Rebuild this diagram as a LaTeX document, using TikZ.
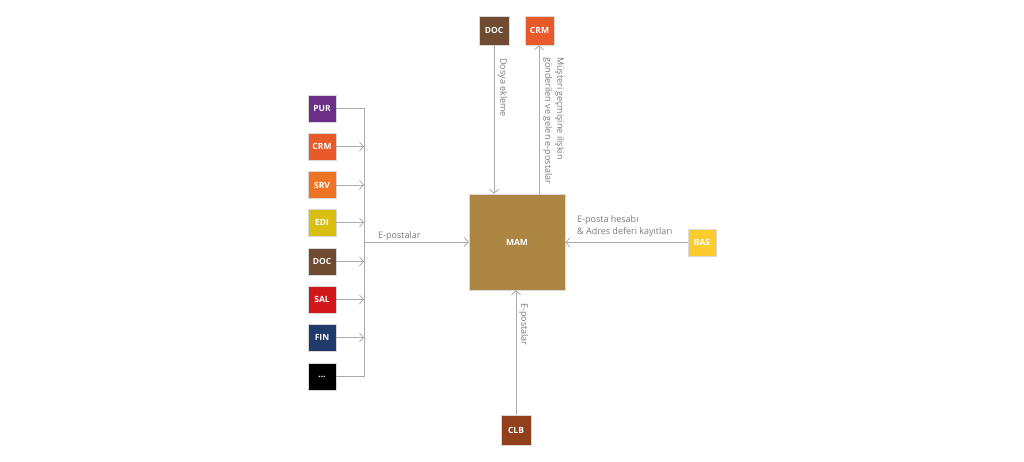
\documentclass[tikz,border=0pt]{standalone}
\usepackage{fontspec}
\setmainfont{Open Sans}
\usetikzlibrary{arrows.meta}
\definecolor{cPUR}{HTML}{6B2F87}
\definecolor{cCRM}{HTML}{E85A2A}
\definecolor{cSRV}{HTML}{EE7423}
\definecolor{cEDI}{HTML}{D8BF12}
\definecolor{cDOC}{HTML}{6E4B31}
\definecolor{cSAL}{HTML}{D2171B}
\definecolor{cFIN}{HTML}{1F3A6B}
\definecolor{cMAM}{HTML}{AD8643}
\definecolor{cBAS}{HTML}{FCCB2C}
\definecolor{cCLB}{HTML}{923F1D}
\definecolor{cline}{HTML}{ABABAB}
\definecolor{ctext}{HTML}{7A7A7A}
\tikzset{
  sysbox/.style={draw=white!85!black, line width=0.5pt, minimum width=28pt, minimum height=27pt, inner sep=0pt, text=white, font=\fontsize{8.5}{9}\selectfont\bfseries},
  conn/.style={draw=cline, line width=0.8pt},
  arr/.style={conn, -{Straight Barb[length=4pt,width=9pt,line width=0.8pt]}},
  lbl/.style={text=ctext, font=\fontsize{9}{12}\selectfont, inner sep=0pt},
}
\begin{document}
\begin{tikzpicture}[x=1pt,y=-1pt]
\useasboundingbox (0,0) rectangle (1024,461);
% left column
\node[sysbox, fill=cPUR] (pur) at (322,108.5) {PUR};
\node[sysbox, fill=cCRM] (crm1) at (322,146.5) {CRM};
\node[sysbox, fill=cSRV] (srv) at (322,185) {SRV};
\node[sysbox, fill=cEDI] (edi) at (322,222.5) {EDI};
\node[sysbox, fill=cDOC] (doc1) at (322,261.5) {DOC};
\node[sysbox, fill=cSAL] (sal) at (322,299.5) {SAL};
\node[sysbox, fill=cFIN] (fin) at (322,337.5) {FIN};
\node[sysbox, fill=black] (etc) at (322,376.5) {...};
% main
\node[sysbox, fill=cMAM, minimum width=96pt, minimum height=96pt] (mam) at (517,242) {MAM};
\node[sysbox, fill=cDOC, minimum width=30pt, minimum height=29pt] (doc2) at (494,30.5) {DOC};
\node[sysbox, fill=cCRM, minimum width=29pt, minimum height=29pt] (crm2) at (539.5,30.5) {CRM};
\node[sysbox, fill=cBAS] (bas) at (702,242.5) {BAS};
\node[sysbox, fill=cCLB, minimum width=30pt, minimum height=30pt] (clb) at (516,430) {CLB};
% bus
\coordinate (bt) at (364,108.5);
\coordinate (bb) at (364,376.5);
\coordinate (bm) at (364,242);
\draw[conn] (pur.east) -- (bt) -- (bb) -- (etc.east);
\foreach \n in {crm1,srv,edi,doc1,sal,fin}{
  \draw[arr] (\n.east) -- (\n.east -| bt);
}
\draw[arr] (bm) -- (mam.west);
\node[lbl, anchor=base west] (lblE) at (378,238) {E-postalar};
% top
\draw[arr] (doc2.south) -- (doc2.south |- mam.north);
\node[lbl, rotate=-90, anchor=south west] (lblD) at (498,58) {Dosya ekleme};
\coordinate (mtop) at (539,194);
\draw[arr] (mtop) -- (mtop |- crm2.south);
\node[lbl, rotate=-90, anchor=south west, align=left] (lblC) at (543,57) {Müşteri geçmişine ilişkin\\gönderilen ve gelen e-postalar};
% right
\draw[arr] (bas.west) -- (bas.west -| mam.east);
\node[lbl, anchor=south west, align=left] (lblB) at (577,237) {E-posta hesabı\\\& Adres deferi kayıtları};
% bottom
\draw[arr] (clb.north) -- (clb.north |- mam.south);
\node[lbl, rotate=-90, anchor=south west] (lblL) at (519,303) {E-postalar};
\end{tikzpicture}
\end{document}
